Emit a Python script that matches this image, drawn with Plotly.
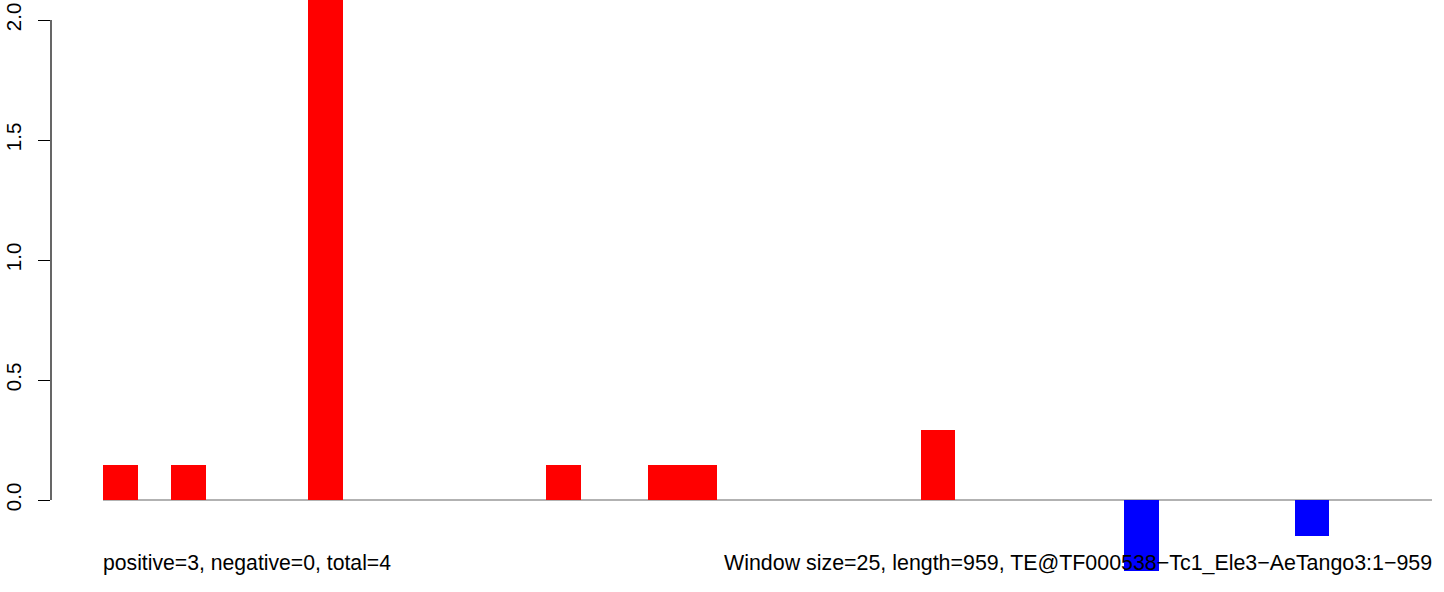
import plotly.graph_objects as go

# Data
window_size = 25
seq_length = 959
bar_starts = [0, 49, 148, 320, 393, 418, 590, 737, 860]
bar_values = [0.146, 0.146, 2.5, 0.146, 0.146, 0.146, 0.292, -0.296, -0.148]
y_ticks = [0.0, 0.5, 1.0, 1.5, 2.0]
y_tick_labels = ["0.0", "0.5", "1.0", "1.5", "2.0"]
left_text = "positive=3, negative=0, total=4"
right_text = "Window size=25, length=959, TE@TF000538\u2212Tc1_Ele3\u2212AeTango3:1\u2212959"

centers = [s + window_size / 2 for s in bar_starts]
colors = ["#FF0000" if v >= 0 else "#0000FF" for v in bar_values]

FONT = "Liberation Sans, Arial, Helvetica, sans-serif"

fig = go.Figure()
fig.add_trace(go.Bar(
    x=centers, y=bar_values, width=window_size,
    marker=dict(color=colors, line=dict(width=0)),
    showlegend=False, hoverinfo="skip",
))

# baseline
fig.add_shape(type="line", xref="x", yref="y", x0=0, x1=seq_length, y0=0, y1=0,
              line=dict(color="#999999", width=1.5), layer="below")
# y axis line between first and last tick
fig.add_shape(type="line", xref="paper", yref="y", x0=0, x1=0, y0=y_ticks[0], y1=y_ticks[-1],
              line=dict(color="black", width=1.2), layer="above")

fig.add_annotation(x=0, y=-0.2625, xref="x", yref="y", text=left_text, showarrow=False,
                   xanchor="left", yanchor="middle", xshift=-2,
                   font=dict(family=FONT, size=21.2, color="black"))
fig.add_annotation(x=seq_length, y=-0.2625, xref="x", yref="y", text=right_text, showarrow=False,
                   xanchor="right", yanchor="middle", xshift=2,
                   font=dict(family=FONT, size=21.4, color="black"))

px_per_unit = 1329 / seq_length
x_left = (51 - 103) / px_per_unit
x_right = (1444 - 103) / px_per_unit

fig.update_layout(
    width=1444, height=592,
    margin=dict(l=51, r=0, t=0, b=0, pad=0),
    paper_bgcolor="white", plot_bgcolor="white",
    bargap=0,
    xaxis=dict(range=[x_left, x_right], visible=False, showgrid=False, zeroline=False,
               automargin=False, fixedrange=True),
    yaxis=dict(range=[-92 / 240, 500 / 240], showgrid=False, zeroline=False, showline=False,
               automargin=False, fixedrange=True,
               tickmode="array", tickvals=y_ticks, ticktext=y_tick_labels,
               ticks="outside", ticklen=12, tickwidth=1.2, tickcolor="black",
               ticklabelstandoff=9,
               tickangle=-90, tickfont=dict(family=FONT, size=20.5, color="black")),
    font=dict(family=FONT),
)

fig.write_html("out.html",
               config={"displayModeBar": False},
               post_script="document.body.style.margin='0';document.body.style.overflow='hidden';")
